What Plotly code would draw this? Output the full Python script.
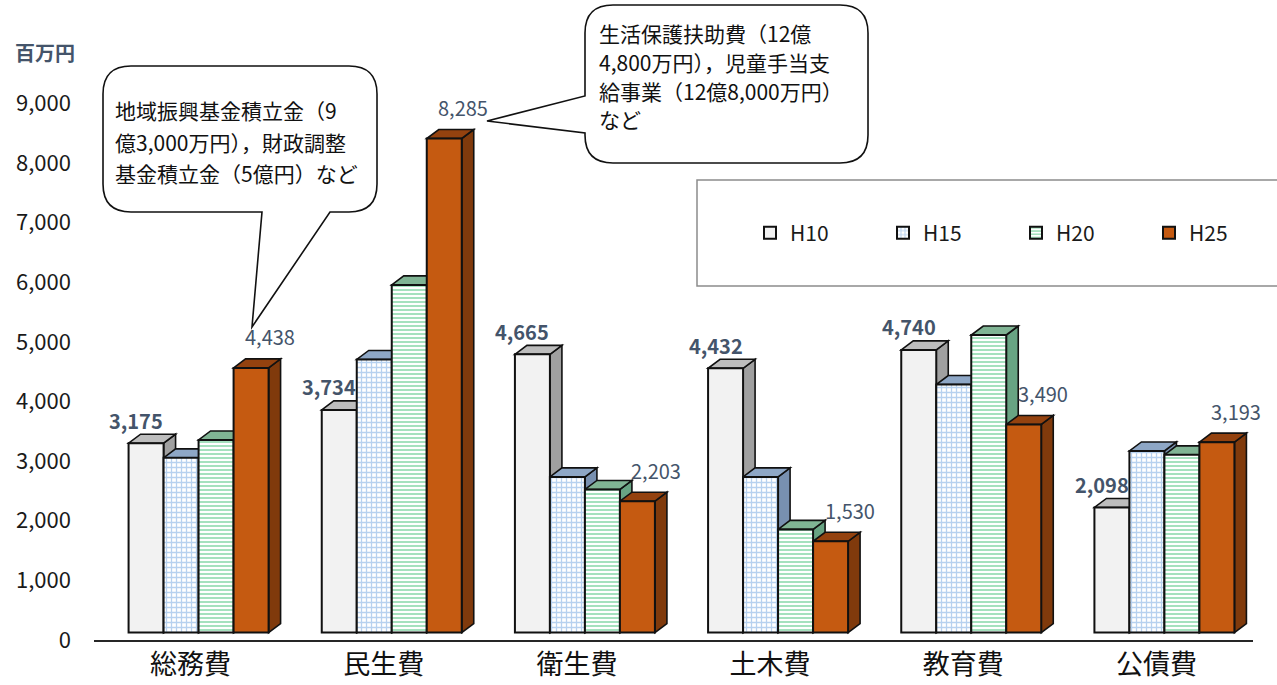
import plotly.graph_objects as go

# ---------------- data ----------------
categories = ["総務費", "民生費", "衛生費", "土木費", "教育費", "公債費"]
series_names = ["H10", "H15", "H20", "H25"]
h10 = [3175, 3734, 4665, 4432, 4740, 2098]
h15 = [2930, 4580, 2610, 2610, 4160, 3045]
h20 = [3230, 5830, 2400, 1730, 4990, 2980]
h25 = [4438, 8285, 2203, 1530, 3490, 3193]
y_ticks = [0, 1000, 2000, 3000, 4000, 5000, 6000, 7000, 8000, 9000]
unit_label = "百万円"
callout1_lines = ["地域振興基金積立金（9", "億3,000万円），財政調整", "基金積立金（5億円）など"]
callout2_lines = ["生活保護扶助費（12億", "4,800万円），児童手当支", "給事業（12億8,000万円）", "など"]

series_values = [h10, h15, h20, h25]

# ---------------- layout geometry ----------------
W, H = 1277, 685
ML, MR, MT, MB = 94, 24, 0, 45
PW, PH = W - ML - MR, H - MT - MB
PX_PER_1000 = 59.63
YMAX = PH / PX_PER_1000 * 1000
X_UNIT = PW / 6.0

bar_w = 35 / X_UNIT
group_shift = 8 / X_UNIT
floor_lift = 125            # 3D floor lift (value units)
dx = 12 / X_UNIT            # depth offset
dy = 9 / PX_PER_1000 * 1000

FONT = "Noto Sans CJK JP"
LABEL_COLOR = "#44546A"

front_style = [
    dict(color="#F2F2F2"),
    dict(color="white", pattern=dict(shape="+", fgcolor="#6FA3E0", bgcolor="white", size=5, solidity=0.45)),
    dict(color="white", pattern=dict(shape="-", fgcolor="#4CC47E", bgcolor="white", size=4, solidity=0.5)),
    dict(color="#C55A11"),
]
top_colors = ["#BDBDBD", "#8EA7C6", "#80B494", "#94420F"]
side_colors = ["#A0A0A0", "#7890B0", "#68A483", "#803A0C"]


def px2paper(px, py):
    return (px - ML) / PW, (H - MB - py) / PH


fig = go.Figure()
idx = list(range(len(categories)))

for k, (name, vals) in enumerate(zip(series_names, series_values)):
    fig.add_trace(go.Bar(
        name=name, x=idx, y=vals, base=floor_lift,
        width=bar_w, offset=group_shift - 2 * bar_w + k * bar_w,
        marker=dict(line=dict(color="#111111", width=2), **front_style[k]),
        hoverinfo="skip",
    ))

shapes = []
for i in idx:
    for k, vals in enumerate(series_values):
        xl = i + group_shift - 2 * bar_w + k * bar_w
        xr = xl + bar_w
        y0 = floor_lift
        y1 = floor_lift + vals[i]
        side = f"M {xr},{y0} L {xr+dx},{y0+dy} L {xr+dx},{y1+dy} L {xr},{y1} Z"
        top = f"M {xl},{y1} L {xr},{y1} L {xr+dx},{y1+dy} L {xl+dx},{y1+dy} Z"
        shapes.append(dict(type="path", path=side, xref="x", yref="y", layer="below",
                           fillcolor=side_colors[k], line=dict(color="#111111", width=1.6)))
        shapes.append(dict(type="path", path=top, xref="x", yref="y", layer="below",
                           fillcolor=top_colors[k], line=dict(color="#111111", width=1.6)))


def rounded_callout(L, T, R, B, r, pointer, side):
    def p(x, y):
        a, b = px2paper(x, y)
        return f"{a:.5f},{b:.5f}"
    segs = [f"M {p(L+r, T)}", f"L {p(R-r, T)}", f"Q {p(R, T)} {p(R, T+r)}", f"L {p(R, B-r)}",
            f"Q {p(R, B)} {p(R-r, B)}"]
    if side == "bottom":
        (ax, _), (tx, ty), (bx, _) = pointer
        segs += [f"L {p(ax, B)}", f"L {p(tx, ty)}", f"L {p(bx, B)}"]
    segs += [f"L {p(L+r, B)}", f"Q {p(L, B)} {p(L, B-r)}"]
    if side == "left":
        (_, ay), (tx, ty), (_, by) = pointer
        segs += [f"L {p(L, ay)}", f"L {p(tx, ty)}", f"L {p(L, by)}"]
    segs += [f"L {p(L, T+r)}", f"Q {p(L, T)} {p(L+r, T)}", "Z"]
    return " ".join(segs)


shapes.append(dict(type="path", xref="paper", yref="paper", layer="above",
                   path=rounded_callout(103, 66, 377, 212, 28, [(330, 0), (252, 327), (262, 0)], "bottom"),
                   fillcolor="white", line=dict(color="#111111", width=1.6)))
shapes.append(dict(type="path", xref="paper", yref="paper", layer="above",
                   path=rounded_callout(585, 5, 868, 163, 28, [(0, 133), (487, 121), (0, 96)], "left"),
                   fillcolor="white", line=dict(color="#111111", width=1.6)))

# legend frame
lx0, ly0 = px2paper(697, 286)
lx1, ly1 = px2paper(1282, 180)
shapes.append(dict(type="rect", xref="paper", yref="paper", layer="above",
                   x0=lx0, y0=ly0, x1=lx1, y1=ly1, fillcolor="white",
                   line=dict(color="#8C8C8C", width=1.5)))

annotations = []
# value labels
for i in idx:
    xc = i + group_shift - 2 * bar_w + 0.5 * bar_w
    annotations.append(dict(x=xc, y=floor_lift + h10[i], xref="x", yref="y",
                            text=f"<b>{h10[i]:,}</b>", showarrow=False,
                            xanchor="center", yanchor="middle", xshift=-10, yshift=23,
                            font=dict(family=FONT, size=20, color=LABEL_COLOR)))
    xc = i + group_shift - 2 * bar_w + 3.5 * bar_w
    annotations.append(dict(x=xc, y=floor_lift + h25[i], xref="x", yref="y",
                            text=f"{h25[i]:,}", showarrow=False,
                            xanchor="center", yanchor="middle", xshift=19, yshift=31,
                            font=dict(family=FONT, size=20, color=LABEL_COLOR)))

# unit label
ux, uy = px2paper(45, 52)
annotations.append(dict(x=ux, y=uy, xref="paper", yref="paper", text=f"<b>{unit_label}</b>",
                        showarrow=False, xanchor="center", yanchor="middle",
                        font=dict(family=FONT, size=20, color=LABEL_COLOR)))

# callout text
for line, cy in zip(callout1_lines, [110, 141.5, 173]):
    ax_, ay_ = px2paper(113, cy)
    annotations.append(dict(x=ax_, y=ay_, xref="paper", yref="paper", text=line, showarrow=False,
                            xanchor="left", yanchor="middle",
                            font=dict(family=FONT, size=21, color="#111111")))
for line, cy in zip(callout2_lines, [33, 62, 91.5, 119]):
    ax_, ay_ = px2paper(597, cy)
    annotations.append(dict(x=ax_, y=ay_, xref="paper", yref="paper", text=line, showarrow=False,
                            xanchor="left", yanchor="middle",
                            font=dict(family=FONT, size=21, color="#111111")))

legx, legy = px2paper(750, 233)

fig.update_layout(
    width=W, height=H,
    margin=dict(l=ML, r=MR, t=MT, b=MB, pad=0, autoexpand=False),
    paper_bgcolor="white", plot_bgcolor="rgba(0,0,0,0)",
    barmode="overlay",
    showlegend=True,
    legend=dict(orientation="h", x=legx, y=legy, xanchor="left", yanchor="middle",
                xref="paper", yref="paper",
                entrywidth=88, entrywidthmode="pixels",
                font=dict(family=FONT, size=21, color="#1a1a1a"),
                bgcolor="rgba(0,0,0,0)", borderwidth=0, traceorder="normal"),
    xaxis=dict(range=[-0.5, 5.5], tickmode="array", tickvals=idx, ticktext=categories,
               showline=True, linecolor="#262626", linewidth=2, ticks="",
               showgrid=False, zeroline=False, fixedrange=True, automargin=False,
               tickfont=dict(family=FONT, size=27, color="#111111")),
    yaxis=dict(range=[0, YMAX], tickmode="array", tickvals=y_ticks,
               tickformat=",", showline=False, showgrid=False, zeroline=False,
               ticks="", ticklabelstandoff=22, automargin=False,
               tickfont=dict(family=FONT, size=22, color="#1a1a1a")),
    shapes=shapes,
    annotations=annotations,
    font=dict(family=FONT),
)

fig.write_html("out.html")
